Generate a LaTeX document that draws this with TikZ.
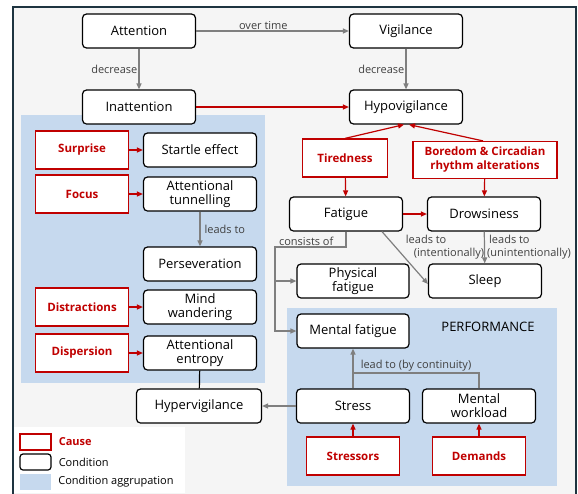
\documentclass[tikz,border=0pt]{standalone}
\usepackage{fontspec}
\setmainfont{Open Sans}
\usetikzlibrary{arrows.meta,positioning}

\definecolor{cred}{HTML}{C00000}
\definecolor{cgray}{HTML}{7F7F7F}
\definecolor{aggr}{HTML}{C6D9EE}
\definecolor{framec}{HTML}{1E3440}
\definecolor{paper}{HTML}{F5F5F5}

\begin{document}
\begin{tikzpicture}[x=1pt,y=-1pt,
  cond/.style={draw=black,fill=white,rounded corners=4pt,line width=1.2pt,
    minimum width=113pt,minimum height=34pt,inner sep=1pt,align=center,
    font=\fontsize{13}{14}\selectfont},
  cause/.style={draw=cred,fill=white,line width=1.2pt,text=cred,
    minimum width=93pt,minimum height=38pt,inner sep=1pt,align=center,
    font=\fontsize{11.5}{14}\selectfont\bfseries},
  lbl/.style={text=black!75,font=\fontsize{11}{12.5}\selectfont,inner sep=1pt},
  garrow/.style={draw=cgray,line width=1.2pt,-{Triangle[length=6pt,width=5pt]}},
  rarrow/.style={draw=cred,line width=1.2pt,-{Triangle[length=6pt,width=5pt]}},
  gline/.style={draw=cgray,line width=1.2pt}]

\useasboundingbox (0,0) rectangle (578,493);

% background, frame and groups
\fill[paper] (13,7) rectangle (576,495);
\draw[framec,line width=1.2pt] (13,495) |- (576,7) -- (576,495);
\fill[aggr] (21,115) rectangle (265,383);
\fill[aggr] (287,308) rectangle (557,486);
\node[font=\fontsize{13}{14}\selectfont] (perf) at (488,327) {PERFORMANCE};

% conditions
\node[cond] (att) at (139,31) {Attention};
\node[cond] (vig) at (406,31) {Vigilance};
\node[cond] (inatt) at (139,107) {Inattention};
\node[cond] (hypo) at (406,107) {Hypovigilance};

\node[cond] (startle) at (200,150) {Startle effect};
\node[cond] (tunnel) at (200,194) {Attentional\\tunnelling};
\node[cond] (persev) at (200,264) {Perseveration};
\node[cond] (mindw) at (200,307) {Mind\\wandering};
\node[cond] (entropy) at (200,353) {Attentional\\entropy};
\node[cond,minimum width=125pt] (hyper) at (199,406) {Hypervigilance};

\node[cond] (fatigue) at (346,214) {Fatigue};
\node[cond] (drows) at (484,214) {Drowsiness};
\node[cond,minimum width=112pt] (physical) at (353,281) {Physical\\fatigue};
\node[cond] (sleep) at (485,281) {Sleep};
\node[cond,minimum width=112pt] (mentalf) at (353,331) {Mental fatigue};
\node[cond] (stress) at (353,406) {Stress};
\node[cond] (workload) at (479,406) {Mental\\workload};

% causes
\node[cause] (surprise) at (82,150) {Surprise};
\node[cause] (focus) at (82,194) {Focus};
\node[cause] (distr) at (82,307) {Distractions};
\node[cause] (disp) at (82,353) {Dispersion};
\node[cause,minimum width=85pt] (tired) at (345,158) {Tiredness};
\node[cause,minimum width=144pt,minimum height=37pt] (bored) at (485,160)
  {Boredom \& Circadian\\rhythm alterations};
\node[cause] (stressors) at (353,456) {Stressors};
\node[cause] (demands) at (479,456) {Demands};

% gray connectors
\draw[garrow] (att) -- node[lbl,above,pos=0.44] {over time} (vig);
\draw[garrow] (att) -- node[lbl,left] {decrease} (inatt);
\draw[garrow] (vig) -- node[lbl,left] {decrease} (hypo);
\draw[garrow] (tunnel) -- node[lbl,right=3pt] {leads to} (persev);

\coordinate (split) at (275,247);
\draw[garrow] (fatigue.south) |- node[lbl,above,pos=0.78] {consists of} (split) |- (mentalf.west);
\draw[garrow] (split |- physical.west) -- (physical.west);
\draw[garrow] ([xshift=36pt]fatigue.south) -- ([yshift=-3pt]sleep.west);
\node[lbl,align=left] (intent) at (445,247) {leads to\\\hspace{8pt}(intentionally)};
\draw[garrow] (drows) -- (sleep);
\node[lbl,align=left,anchor=west] (unintent) at (486,247) {\hspace{2pt}leads to\\(unintentionally)};

\coordinate (join) at (353,373);
\draw[garrow] (stress) -- (mentalf);
\draw[gline] (workload.north) |- node[lbl,above,pos=0.75] {lead to (by continuity)} (join);
\draw[garrow] (stress) -- (hyper);
\draw[line width=1.2pt] (entropy) -- (hyper);

% red connectors
\draw[rarrow] (inatt) -- (hypo);
\draw[rarrow] (tired.north) -- ([xshift=-2pt]hypo.south);
\draw[rarrow] ([xshift=-2pt]bored.north) -- ([xshift=3pt]hypo.south);
\draw[rarrow] (tired) -- (fatigue);
\draw[rarrow] (bored) -- (drows);
\draw[rarrow] (fatigue) -- (drows);
\draw[rarrow] (surprise) -- (startle);
\draw[rarrow] (focus) -- (tunnel);
\draw[rarrow] (distr) -- (mindw);
\draw[rarrow] (disp) -- (entropy);
\draw[rarrow] (stressors) -- (stress);
\draw[rarrow] (demands) -- (workload);

% legend
\fill[white] (14,427) rectangle (185,493);
\node[draw=cred,line width=1.2pt,minimum width=31pt,minimum height=16pt,inner sep=0pt] (legcause) at (35.5,442) {};
\node[draw,rounded corners=3pt,line width=1.2pt,minimum width=31pt,minimum height=16pt,inner sep=0pt] (legcond) at (35.5,462) {};
\node[fill=aggr,minimum width=31pt,minimum height=16pt,inner sep=0pt] (legaggr) at (35.5,482) {};
\node[right=6pt of legcause,text=cred,font=\fontsize{11}{12}\selectfont\bfseries,inner sep=1pt] (legcausetxt) {Cause};
\node[right=6pt of legcond,font=\fontsize{11}{12}\selectfont,inner sep=1pt] (legcondtxt) {Condition};
\node[right=6pt of legaggr,font=\fontsize{11}{12}\selectfont,inner sep=1pt] (legaggrtxt) {Condition aggrupation};

\end{tikzpicture}
\end{document}
